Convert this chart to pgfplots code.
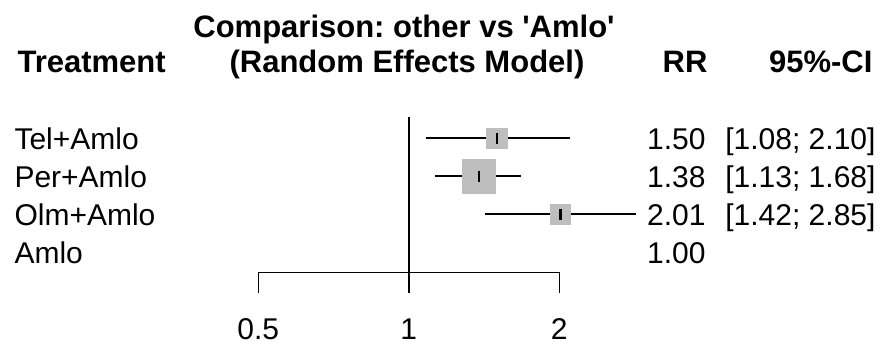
\documentclass[border=0pt]{standalone}
\usepackage{pgfplots}
\usepackage{pgfplotstable}
\pgfplotsset{compat=1.18}
\usepackage{fontspec}
\setmainfont{Liberation Sans}[Ligatures=TeXOff]
\frenchspacing
\definecolor{boxgray}{HTML}{BEBEBE}
\newcommand\fs{\fontsize{30}{36}\selectfont}
\newcommand\fb{\fontsize{31}{37}\selectfont\bfseries}
\pgfplotstableread{
row est lo hi size
4 1.50 1.08 2.10 10.3
3 1.38 1.13 1.68 16.6
2 2.01 1.42 2.85 9.8
}\data
\begin{document}
\begin{tikzpicture}[x=1pt,y=1pt]
\path[use as bounding box] (0,0) rectangle (888,345);
\begin{axis}[
  at={(258.3pt,72.7pt)}, anchor=south west,
  scale only axis, width=301pt, height=155pt,
  xmode=log, xmin=0.5, xmax=2, ymin=0.47, ymax=4.55,
  clip=false,
  axis x line*=bottom, axis y line=none,
  axis line style={-, line width=1.5pt, black},
  xtick={0.5,1,2}, xticklabels={0.5,1,2},
  ytick=\empty,
  tick align=outside, major tick length=20.4pt,
  every tick/.style={line width=1.5pt, black},
  xticklabel style={font=\fs, anchor=base, inner sep=0pt, yshift=-47pt},
  /pgf/number format/assume math mode=true,
]
% gray boxes
\addplot[scatter, only marks, mark=square*,
  scatter/use mapped color={draw=boxgray, fill=boxgray},
  visualization depends on={\thisrow{size} \as \msize},
  scatter/@pre marker code/.append style={/tikz/mark size=\msize}]
  table[x=est, y=row] {\data};
% reference line at 1
\addplot[black, line width=1.5pt] coordinates {(1,0.47) (1,4.55)};
% confidence intervals
\addplot[black, line width=1.5pt] coordinates {(1.08,4) (2.10,4)};
\addplot[black, line width=1.5pt] coordinates {(1.13,3) (1.68,3)};
\addplot[black, line width=1.5pt] coordinates {(1.42,2) (2.85,2)};
% estimate ticks
\addplot[only marks, mark=|, mark size=5.5pt, mark options={line width=2.4pt, black}]
  table[x=est, y=row] {\data};
\end{axis}
% header
\node[anchor=base west, font=\fb] at (14,272) {Treatment};
\node[anchor=base, font=\fb] at (404,307) {Comparison: other vs 'Amlo'};
\node[anchor=base, font=\fb] at (407,272) {(Random Effects Model)};
\node[anchor=base east, font=\fb] at (711,272) {RR};
\node[anchor=base east, font=\fb] at (876,272) {95\%-CI};
% rows
\node[anchor=base west, font=\fs] at (11,195) {Tel+Amlo};
\node[anchor=base west, font=\fs] at (11,157) {Per+Amlo};
\node[anchor=base west, font=\fs] at (11,119) {Olm+Amlo};
\node[anchor=base west, font=\fs] at (11,81) {Amlo};
\node[anchor=base east, font=\fs] at (709,195) {1.50};
\node[anchor=base east, font=\fs] at (709,157) {1.38};
\node[anchor=base east, font=\fs] at (709,119) {2.01};
\node[anchor=base east, font=\fs] at (709,81) {1.00};
\node[anchor=base east, font=\fs] at (879,195) {[1.08; 2.10]};
\node[anchor=base east, font=\fs] at (879,157) {[1.13; 1.68]};
\node[anchor=base east, font=\fs] at (879,119) {[1.42; 2.85]};
\end{tikzpicture}
\end{document}
